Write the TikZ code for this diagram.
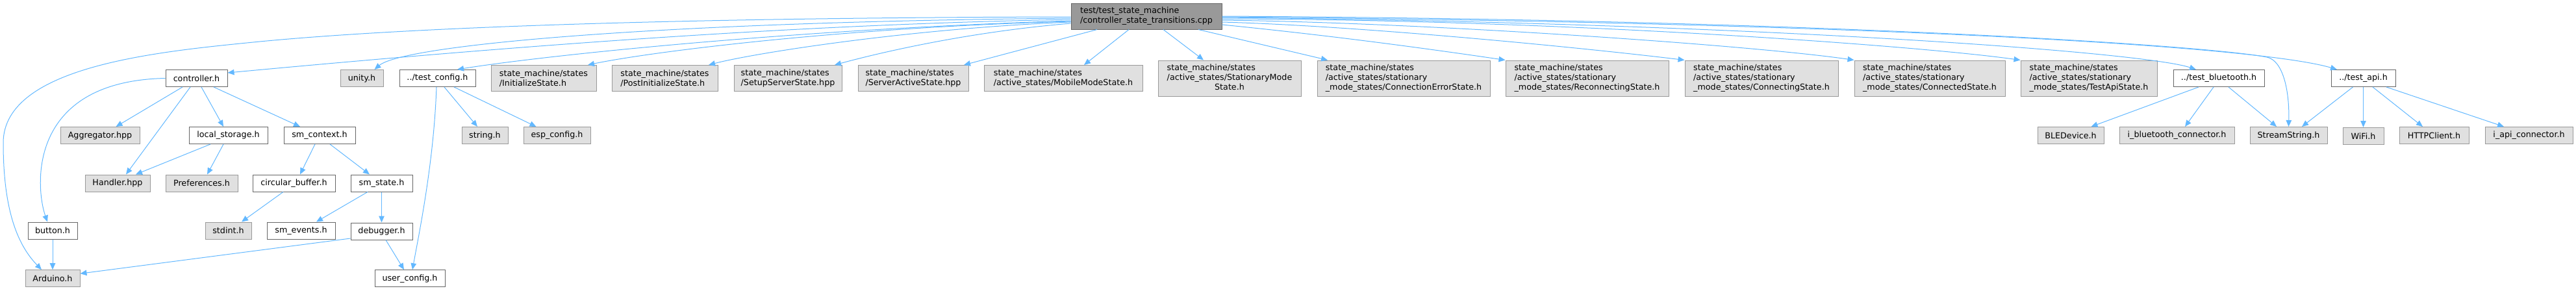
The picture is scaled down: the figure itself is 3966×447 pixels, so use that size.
\documentclass[tikz,border=0pt]{standalone}
\usepackage{fontspec}
\setmainfont{DejaVu Sans}
\usetikzlibrary{arrows.meta, positioning}
\definecolor{EdgeBlue}{HTML}{63B8FF}
\definecolor{BorderDark}{HTML}{666666}
\definecolor{BorderLight}{HTML}{999999}
\definecolor{FillLight}{HTML}{E0E0E0}
\definecolor{FillMain}{HTML}{999999}

\begin{document}
\begin{tikzpicture}[x=1pt, y=-1pt,
    every node/.style={font=\fontsize{12.7}{15}\selectfont, inner sep=0pt},
    usrfile/.style={draw=BorderDark, fill=white, line width=1pt, minimum height=26pt},
    sysfile/.style={draw=BorderLight, fill=FillLight, line width=1pt, minimum height=26pt},
    statefile/.style={sysfile, align=left, minimum height=40pt},
    deepfile/.style={sysfile, align=left, minimum height=55pt},
    incl/.style={draw=EdgeBlue, line width=1pt, -{Triangle[length=10pt, width=8.5pt]}}]
    \useasboundingbox (0,0) rectangle (3966,447);

    % top file
    \node[draw=BorderDark, fill=FillMain, line width=1pt, align=left, minimum width=232pt, minimum height=40pt] (main) at (1765,25) {test/test\_state\_machine\\/controller\_state\_transitions.cpp};

    % direct includes
    \node[usrfile, minimum width=95pt] (controller) at (302.5,120.5) {controller.h};
    \node[sysfile, minimum width=66pt] (unity) at (557,120.5) {unity.h};
    \node[usrfile, minimum width=117pt] (testconfig) at (673.5,120.5) {../test\_config.h};
    \node[statefile, minimum width=162pt] (initstate) at (837,120.5) {state\_machine/states\\/InitializeState.h};
    \node[statefile, minimum width=163pt] (postinit) at (1023.5,120.5) {state\_machine/states\\/PostInitializeState.h};
    \node[statefile, minimum width=166pt] (setupserver) at (1213,120.5) {state\_machine/states\\/SetupServerState.hpp};
    \node[statefile, minimum width=170pt] (serveractive) at (1406,120.5) {state\_machine/states\\/ServerActiveState.hpp};
    \node[statefile, minimum width=244pt] (mobilemode) at (1637,120.5) {state\_machine/states\\/active\_states/MobileModeState.h};
    \node[deepfile, minimum width=220pt] (stationary) at (1893,120.5) {\begin{tabular}{@{}l@{}}state\_machine/states\\/active\_states/StationaryMode\\\multicolumn{1}{@{}c@{}}{State.h}\end{tabular}};
    \node[deepfile, minimum width=266pt] (connerror) at (2161,120.5) {state\_machine/states\\/active\_states/stationary\\\_mode\_states/ConnectionErrorState.h};
    \node[deepfile, minimum width=251pt] (reconnecting) at (2443.5,120.5) {state\_machine/states\\/active\_states/stationary\\\_mode\_states/ReconnectingState.h};
    \node[deepfile, minimum width=236pt] (connecting) at (2712,120.5) {state\_machine/states\\/active\_states/stationary\\\_mode\_states/ConnectingState.h};
    \node[deepfile, minimum width=232pt] (connected) at (2971,120.5) {state\_machine/states\\/active\_states/stationary\\\_mode\_states/ConnectedState.h};
    \node[deepfile, minimum width=210pt] (testapistate) at (3216,120.5) {state\_machine/states\\/active\_states/stationary\\\_mode\_states/TestApiState.h};
    \node[usrfile, minimum width=140pt] (testbt) at (3416,120.5) {../test\_bluetooth.h};
    \node[usrfile, minimum width=99pt] (testapi) at (3638.5,120.5) {../test\_api.h};

    % second level
    \node[sysfile, minimum width=122pt] (aggregator) at (154,208.5) {Aggregator.hpp};
    \node[usrfile, minimum width=121pt] (localstorage) at (351.5,208.5) {local\_storage.h};
    \node[usrfile, minimum width=110pt] (smcontext) at (492,208.5) {sm\_context.h};
    \node[sysfile, minimum width=71pt] (stringh) at (746.5,208.5) {string.h};
    \node[sysfile, minimum width=103pt] (espconfig) at (857.5,208.5) {esp\_config.h};
    \node[sysfile, minimum width=102pt] (bledevice) at (3188,208.5) {BLEDevice.h};
    \node[sysfile, minimum width=177pt] (ibtconn) at (3351.5,208.5) {i\_bluetooth\_connector.h};
    \node[sysfile, minimum width=119pt] (streamstring) at (3523.5,208.5) {StreamString.h};
    \node[sysfile, minimum width=63pt, below=62pt of testapi] (wifi) {WiFi.h};
    \node[sysfile, minimum width=107pt] (httpclient) at (3747.5,208.5) {HTTPClient.h};
    \node[sysfile, minimum width=135pt] (iapiconn) at (3893.5,208.5) {i\_api\_connector.h};

    % third level
    \node[sysfile, minimum width=100pt] (handler) at (181,282) {Handler.hpp};
    \node[sysfile, minimum width=111pt] (preferences) at (310.5,282) {Preferences.h};
    \node[usrfile, minimum width=127pt] (circbuf) at (452.5,282) {circular\_buffer.h};
    \node[usrfile, minimum width=95pt] (smstate) at (587.5,282) {sm\_state.h};

    \node[usrfile, minimum width=76pt] (button) at (81,355) {button.h};
    \node[sysfile, minimum width=71pt] (stdint) at (351.5,355) {stdint.h};
    \node[usrfile, minimum width=105pt] (smevents) at (463.5,355) {sm\_events.h};
    \node[usrfile, minimum width=95pt, below=47pt of smstate] (debugger) {debugger.h};

    \node[sysfile, minimum width=84pt] (arduino) at (81,428.7) {Arduino.h};
    \node[usrfile, minimum width=108pt] (userconfig) at (631,428.7) {user\_config.h};

    % Arrows from the test file, left side
    \draw[incl] ([yshift=-1pt]main.west) .. controls (1100,27) and (650,40) .. (400,64) .. controls (250,79) and (5,100) .. (5,220) .. controls (5,330) and (30,380) .. ([xshift=-17pt]arduino.north);
    \draw[incl] ([yshift=-3pt]main.west) .. controls (1000,34) and (620,70) .. ([xshift=19.5pt]unity.north);
    \draw[incl] ([yshift=-5pt]main.west) .. controls (1200,38) and (750,75) .. (controller.10);
    \draw[incl] ([yshift=-7pt]main.west) .. controls (1200,46) and (820,88) .. ([xshift=30.5pt]testconfig.north);
    \draw[incl] ([yshift=-8pt]main.west) .. controls (1300,42) and (1000,80) .. ([xshift=68pt]initstate.north);
    \draw[incl] ([yshift=-9pt]main.west) .. controls (1400,44) and (1160,82) .. ([xshift=67.5pt]postinit.north);
    \draw[incl] ([yshift=-11pt]main.west) .. controls (1480,50) and (1340,85) .. ([xshift=72pt]setupserver.north);
    \draw[incl] ([xshift=-76pt]main.south) -- ([xshift=78pt]serveractive.north);
    \draw[incl] ([xshift=-27pt]main.south) -- ([xshift=32pt]mobilemode.north);
    \draw[incl] ([xshift=26pt]main.south) -- ([xshift=-40pt]stationary.north);
    \draw[incl] ([xshift=80pt]main.south) -- ([xshift=-117pt]connerror.north);

    % Arrows from the test file, right side
    \draw[incl] ([yshift=-13pt]main.east) .. controls +(150,15) and +(-150,-22) .. (reconnecting.north west);
    \draw[incl] ([yshift=-9pt]main.east) .. controls (2100,40) and (2450,75) .. (connecting.north west);
    \draw[incl] ([yshift=-6pt]main.east) .. controls (2200,35) and (2700,70) .. (connected.north west);
    \draw[incl] ([yshift=-4pt]main.east) .. controls (2400,30) and (2950,70) .. (testapistate.north west);
    \draw[incl] ([yshift=-2pt]main.east) .. controls (2700,35) and (3300,80) .. ([xshift=-35pt]testbt.north);
    \draw[incl] (main.east) .. controls (2800,30) and (3400,70) .. (3490,88) .. controls (3515,93) and (3525,140) .. (streamstring.north);
    \draw[incl] ([yshift=-1pt]main.east) .. controls (2900,35) and (3480,72) .. ([xshift=-40.5pt]testapi.north);

    % controller.h and below
    \draw[incl] ([xshift=-21.5pt]controller.south) -- ([xshift=24.5pt]aggregator.north);
    \draw[incl] ([xshift=-9.5pt]controller.south) -- ([xshift=13pt]handler.north);
    \draw[incl] ([xshift=7.5pt]controller.south) -- ([xshift=-7.5pt]localstorage.north);
    \draw[incl] ([xshift=26.5pt]controller.south) -- ([xshift=-30pt]smcontext.north);
    \draw[incl] (controller.west) .. controls (40,125) and (55,290) .. ([xshift=-8pt]button.north);
    \draw[incl] ([xshift=-27.5pt]localstorage.south) -- ([xshift=28pt]handler.north);
    \draw[incl] ([xshift=-7.5pt]localstorage.south) -- ([xshift=8.5pt]preferences.north);
    \draw[incl] ([xshift=-7pt]smcontext.south) -- ([xshift=9.5pt]circbuf.north);
    \draw[incl] ([xshift=16pt]smcontext.south) -- ([xshift=-18.5pt]smstate.north);
    \draw[incl] ([xshift=-16.5pt]circbuf.south) -- ([xshift=20.5pt]stdint.north);
    \draw[incl] ([xshift=-21.5pt]smstate.south) -- ([xshift=23.5pt]smevents.north);
    \draw[incl] (smstate) -- (debugger);
    \draw[incl] ([yshift=-11pt]debugger.west) -- (arduino.10);
    \draw[incl] ([xshift=6.5pt]debugger.south) -- ([xshift=-9pt]userconfig.north);
    \draw[incl] (button) -- (arduino);

    % test_config.h
    \draw[incl] ([xshift=-1.5pt]testconfig.south) .. controls (668,250) and (645,360) .. ([xshift=4pt]userconfig.north);
    \draw[incl] ([xshift=10.5pt]testconfig.south) -- ([xshift=-11.5pt]stringh.north);
    \draw[incl] ([xshift=25.5pt]testconfig.south) -- ([xshift=-32pt]espconfig.north);

    % test_bluetooth.h and test_api.h
    \draw[incl] ([xshift=-31pt]testbt.south) -- ([xshift=31.5pt]bledevice.north);
    \draw[incl] ([xshift=-8pt]testbt.south) -- ([xshift=12.5pt]ibtconn.north);
    \draw[incl] ([xshift=15pt]testbt.south) -- ([xshift=-18.5pt]streamstring.north);
    \draw[incl] ([xshift=-16pt]testapi.south) -- ([xshift=20.5pt]streamstring.north);
    \draw[incl] (testapi) -- (wifi);
    \draw[incl] ([xshift=14.5pt]testapi.south) -- ([xshift=-17.5pt]httpclient.north);
    \draw[incl] ([xshift=35.5pt]testapi.south) -- ([xshift=-38.5pt]iapiconn.north);
\end{tikzpicture}
\end{document}
